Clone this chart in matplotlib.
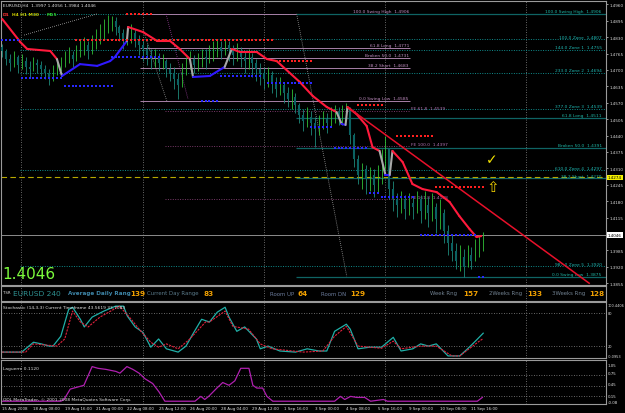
import matplotlib
matplotlib.use("Agg")
import matplotlib.pyplot as plt
from matplotlib.transforms import blended_transform_factory

W, H = 625, 414

# ---- EURUSD H4 bars (15 Aug 2008 .. 12 Sep 2008) ----
first_open = 1.4790
closes = [1.4775, 1.4743, 1.4727, 1.4751, 1.4719, 1.4735, 1.4712, 1.4704, 1.4727, 1.4719,
          1.4704, 1.4688, 1.4672, 1.4696, 1.4712, 1.4727, 1.4743, 1.4759, 1.4743, 1.4767,
          1.4783, 1.4799, 1.4775, 1.4807, 1.4830, 1.4854, 1.4870, 1.4886, 1.4894, 1.4870,
          1.4846, 1.4815, 1.4830, 1.4846, 1.4822, 1.4799, 1.4783, 1.4759, 1.4743, 1.4751,
          1.4727, 1.4735, 1.4704, 1.4688, 1.4664, 1.4640, 1.4696, 1.4727, 1.4743, 1.4719,
          1.4735, 1.4751, 1.4743, 1.4767, 1.4783, 1.4791, 1.4775, 1.4799, 1.4783, 1.4759,
          1.4775, 1.4751, 1.4735, 1.4751, 1.4727, 1.4704, 1.4688, 1.4664, 1.4680, 1.4648,
          1.4624, 1.4640, 1.4608, 1.4585, 1.4593, 1.4561, 1.4521, 1.4498, 1.4513, 1.4490,
          1.4466, 1.4482, 1.4505, 1.4490, 1.4521, 1.4537, 1.4513, 1.4529, 1.4545, 1.4442,
          1.4347, 1.4283, 1.4307, 1.4268, 1.4283, 1.4244, 1.4276, 1.4347, 1.4387, 1.4228,
          1.4189, 1.4165, 1.4189, 1.4149, 1.4173, 1.4157, 1.4189, 1.4141, 1.4165, 1.4133,
          1.4157, 1.4109, 1.4133, 1.4062, 1.4014, 1.3982, 1.3943, 1.3959, 1.3919, 1.3966,
          1.3943, 1.3990, 1.3997, 1.4046]
highs = [1.4803, 1.4783, 1.4763, 1.4775, 1.4759, 1.4763, 1.4751, 1.4735, 1.4751, 1.4743,
         1.4735, 1.4719, 1.4704, 1.4719, 1.4735, 1.4751, 1.4775, 1.4791, 1.4775, 1.4799,
         1.4822, 1.4830, 1.4815, 1.4838, 1.4862, 1.4882, 1.4902, 1.4918, 1.4914, 1.4910,
         1.4878, 1.4862, 1.4870, 1.4882, 1.4862, 1.4838, 1.4822, 1.4803, 1.4783, 1.4783,
         1.4767, 1.4763, 1.4743, 1.4727, 1.4712, 1.4688, 1.4727, 1.4751, 1.4775, 1.4759,
         1.4767, 1.4783, 1.4783, 1.4799, 1.4815, 1.4822, 1.4815, 1.4822, 1.4815, 1.4799,
         1.4807, 1.4791, 1.4775, 1.4783, 1.4767, 1.4743, 1.4727, 1.4712, 1.4712, 1.4696,
         1.4672, 1.4672, 1.4648, 1.4632, 1.4624, 1.4608, 1.4569, 1.4545, 1.4553, 1.4537,
         1.4513, 1.4521, 1.4537, 1.4529, 1.4553, 1.4561, 1.4553, 1.4561, 1.4569, 1.4553,
         1.4450, 1.4363, 1.4331, 1.4323, 1.4315, 1.4307, 1.4323, 1.4387, 1.4438, 1.4387,
         1.4260, 1.4212, 1.4220, 1.4204, 1.4212, 1.4196, 1.4220, 1.4204, 1.4220, 1.4196,
         1.4212, 1.4173, 1.4189, 1.4149, 1.4085, 1.4046, 1.4014, 1.4006, 1.3990, 1.4006,
         1.3998, 1.4030, 1.4046, 1.4056]
lows = [1.4751, 1.4719, 1.4696, 1.4712, 1.4688, 1.4704, 1.4684, 1.4672, 1.4696, 1.4688,
        1.4676, 1.4664, 1.4640, 1.4656, 1.4680, 1.4696, 1.4712, 1.4727, 1.4712, 1.4735,
        1.4751, 1.4759, 1.4743, 1.4763, 1.4783, 1.4803, 1.4822, 1.4846, 1.4854, 1.4838,
        1.4815, 1.4783, 1.4799, 1.4807, 1.4791, 1.4759, 1.4735, 1.4719, 1.4704, 1.4712,
        1.4696, 1.4704, 1.4672, 1.4656, 1.4624, 1.4585, 1.4632, 1.4680, 1.4704, 1.4688,
        1.4696, 1.4712, 1.4704, 1.4727, 1.4735, 1.4751, 1.4743, 1.4759, 1.4735, 1.4719,
        1.4735, 1.4712, 1.4688, 1.4704, 1.4672, 1.4656, 1.4640, 1.4624, 1.4632, 1.4608,
        1.4593, 1.4601, 1.4569, 1.4553, 1.4545, 1.4529, 1.4490, 1.4458, 1.4474, 1.4442,
        1.4394, 1.4442, 1.4466, 1.4450, 1.4474, 1.4490, 1.4482, 1.4482, 1.4498, 1.4406,
        1.4315, 1.4248, 1.4228, 1.4208, 1.4220, 1.4196, 1.4212, 1.4248, 1.4307, 1.4189,
        1.4141, 1.4117, 1.4133, 1.4109, 1.4125, 1.4109, 1.4133, 1.4093, 1.4109, 1.4077,
        1.4101, 1.4054, 1.4070, 1.4014, 1.3966, 1.3943, 1.3911, 1.3903, 1.3879, 1.3919,
        1.3911, 1.3943, 1.3959, 1.3984]

# ---- coloured moving average (d = falling, u = rising, t = turning) ----
ma_bar = [0, 4.6, 6.4, 12.3, 14.0, 15.3, 19.9, 24.3, 27.6, 28.8, 31.9, 32.2, 36.0, 39.6,
          42.9, 45.4, 48.0, 48.8, 53.1, 56.9, 58.7, 60.8, 65.1, 67.7, 70.2, 76.1, 79.4,
          83.0, 85.5, 86.8, 87.8, 88.3, 90.6, 93.2, 94.7, 96.5, 98.0, 99.1, 99.8, 102.4,
          104.9, 107.5, 111.1, 114.4, 116.9, 119.5, 121.3, 122.5]
ma_price = [1.4902, 1.4811, 1.4783, 1.4775, 1.4743, 1.4676, 1.4723, 1.4716, 1.4735, 1.4751,
            1.4815, 1.4870, 1.4850, 1.4815, 1.4815, 1.4783, 1.4743, 1.4672, 1.4676, 1.4712,
            1.4783, 1.4771, 1.4771, 1.4743, 1.4735, 1.4652, 1.4597, 1.4553, 1.4533, 1.4486,
            1.4482, 1.4553, 1.4525, 1.4478, 1.4394, 1.4379, 1.4284, 1.4284, 1.4379, 1.4335,
            1.4248, 1.4228, 1.4216, 1.4177, 1.4121, 1.4070, 1.4038, 1.4042]
ma_state = "ddddtuuuuutdddddtuutddddddddtutddddtutddddddddd"

trend_bar = [88.3, 150.1]
trend_price = [1.4553, 1.3855]

# ---- horizontal levels ----
zone_prices = [1.4922, 1.4822, 1.4779, 1.4688, 1.4545, 1.4303, 1.3923]
zone_names = ["", "100.0 Zone  1.4807", "144.0 Zone 1  1.4755", "233.0 Zone 2  1.4694",
              "377.0 Zone 3  1.4539", "610.0 Zone 4  1.4297", "987.0 Zone 5  1.3920"]
fib1_prices = [1.4922, 1.4787, 1.4747, 1.4708, 1.4577]
fib1_names = ["100.0 Swing High  1.4906", "61.8 Long  1.4771", "Broken 50.0  1.4731",
              "38.2 Short  1.4683", "0.0 Swing Low  1.4585"]
fe_prices = [1.4539, 1.4397, 1.4188]
fe_names = ["FE 61.8  1.4539", "FE 100.0  1.4397", "FE 161.8  1.4188"]
fib2_prices = [1.4922, 1.4511, 1.4391, 1.4270, 1.3880]
fib2_names = ["100.0 Swing High  1.4906", "61.8 Long  1.4511", "Broken 50.0  1.4391",
              "38.2 Short  1.4270", "0.0 Swing Low  1.3875"]
signal_price = 1.4274
last_price = 1.4046

red_rows = [(1.4922, 32, 38), (1.4819, 19, 69), (1.4735, 70, 79), (1.4561, 91, 97),
            (1.4438, 101, 110), (1.4236, 111, 123)]
blue_rows = [(1.4819, 0, 4), (1.4668, 5, 15), (1.4636, 16, 28), (1.4751, 28, 40),
             (1.4577, 51, 55), (1.4676, 56, 66), (1.4648, 68, 79), (1.4474, 79, 84),
             (1.4391, 85, 93), (1.4212, 94, 96), (1.4196, 97, 105), (1.4046, 107, 121),
             (1.3879, 122, 123)]
diag_lines = [((5.6, 24.3), (1.4838, 1.4922), "#b0b0b0"),
              ((36.0, 42.1), (1.4862, 1.4577), "#9a9a9a"),
              ((41.9, 47.5), (1.4922, 1.4585), "#a040a0"),
              ((75.3, 88.1), (1.4922, 1.3883), "#a0a0a0")]

# price scale labels (the 1.4050 one sits under the last-price box)
price_ticks = [1.4960, 1.4895, 1.4830, 1.4765, 1.4700, 1.4635, 1.4570, 1.4505, 1.4440,
               1.4375, 1.4310, 1.4245, 1.4180, 1.4115, 1.3985, 1.3920, 1.3855]

# ---- info bar ----
info_names = ["Average Daily Rang", "Current Day Range", "Room UP", "Room DN",
              "Week Rng", "2Weeks Rng", "3Weeks Rng"]
info_values = [139, 83, 64, 129, 157, 133, 128]

# ---- stochastic (14,3,3) ----
st_bar = [0, 5, 8, 10, 12, 13, 15, 17, 18, 20, 21, 23, 26, 29, 31, 32, 34, 36, 38, 40, 42,
          45, 47, 49, 51, 53, 55, 57, 58, 60, 62, 65, 66, 68, 71, 75, 78, 81, 83, 85, 88,
          89, 91, 94, 97, 100, 102, 105, 107, 109, 111, 114, 117, 119, 121, 123]
st_main = [9, 9, 27, 24, 20, 20, 38, 87, 91, 69, 55, 73, 84, 93, 93, 75, 55, 45, 18, 33, 15,
           9, 20, 45, 69, 64, 82, 91, 73, 47, 55, 33, 15, 20, 11, 9, 15, 11, 11, 47, 60,
           51, 15, 18, 18, 36, 11, 15, 24, 20, 24, 2, 2, 15, 29, 43.5619]
sg_bar = [0, 6, 8, 14, 16, 18, 20, 22, 25, 30, 33, 35, 38, 40, 42, 45, 48, 52, 53, 57, 59,
          63, 66, 69, 77, 82, 85, 88, 91, 97, 100, 102, 107, 111, 115, 117, 122, 123]
st_signal = [9, 9, 24, 20, 33, 84, 64, 55, 73, 93, 69, 51, 27, 18, 24, 15, 33, 64, 64, 84,
             56, 51, 24, 15, 9, 11, 38, 56, 20, 16, 29, 15, 20, 20, 2, 2, 29, 33.7083]

# ---- Laguerre ----
lag_bar = [0, 15, 15.8, 17.4, 20.9, 21.4, 23.0, 24.5, 26.5, 29.1, 30.1, 31.9, 33.4, 35.0,
           36.5, 38.5, 40.1, 41.6, 49.3, 50.8, 51.8, 52.8, 54.9, 56.4, 58.0, 59.5, 61.0,
           63.1, 64.1, 65.1, 66.6, 67.7, 69.2, 85.0, 86.5, 87.6, 89.1, 90.6, 92.7, 94.2,
           97.5, 98.5, 121.5, 122.8]
lag_val = [0, 0, 0.05, 0.35, 0.46, 0.59, 1.0, 0.95, 0.92, 0.86, 0.81, 1.0, 0.92, 0.81,
           0.65, 0.51, 0.27, 0, 0, 0.14, 0.05, 0.14, 0.38, 0.54, 0.46, 0.59, 0.95, 0.95,
           0.46, 0.38, 0.38, 0.14, 0, 0, 0.14, 0.05, 0.14, 0.11, 0.11, 0, 0.05, 0, 0, 0.112]

date_labels = ["15 Aug 2008", "18 Aug 08:00", "19 Aug 16:00", "21 Aug 00:00", "22 Aug 08:00",
               "25 Aug 12:00", "26 Aug 20:00", "28 Aug 04:00", "29 Aug 12:00", "1 Sep 16:00",
               "3 Sep 00:00", "4 Sep 08:00", "5 Sep 16:00", "9 Sep 00:00", "10 Sep 08:00",
               "11 Sep 16:00"]
grid_bars = [4.85, 36, 67, 98, 134]

XMAX = 154.4
RIGHT = 606
SMALL = 3.2
fig = plt.figure(figsize=(W / 100, H / 100), dpi=100, facecolor="black")


def ftext(x, y, s, **kw):
    kw.setdefault("va", "center")
    kw.setdefault("fontsize", SMALL)
    kw.setdefault("color", "#e0e0e0")
    fig.text(x / W, 1 - y / H, s, **kw)


def panel(x0, y0, x1, y1):
    a = fig.add_axes([x0 / W, 1 - y1 / H, (x1 - x0) / W, (y1 - y0) / H])
    a.set_facecolor("black")
    for s in a.spines.values():
        s.set_color("#9a9a9a")
        s.set_linewidth(0.8)
    a.set_xlim(-0.3, XMAX)
    a.set_xticks([])
    a.set_yticks([])
    for gx in grid_bars:
        a.axvline(gx, color="#8a8a8a", lw=0.6, ls=(0, (1, 2)), zorder=0)
    return a


# ================= main price window =================
ax = panel(1, 2, RIGHT, 286)
ax.set_ylim(1.3848, 1.4973)
ax.yaxis.tick_right()
ax.set_yticks(price_ticks)
ax.set_yticklabels([f"{v:.4f}" for v in price_ticks])
ax.tick_params(axis="y", colors="#d8d8d8", labelsize=3.0, length=1.5, width=0.5, pad=0.8)
yb = blended_transform_factory(ax.transAxes, ax.transData)

for p, name in zip(zone_prices, zone_names):
    ax.hlines(p, 4.5, XMAX, color="#0f8c8c", lw=0.7, ls=(0, (1, 1.5)), zorder=1)
    ax.annotate(name, (153.3, p), xytext=(0, 0.4), textcoords="offset points",
                ha="right", va="bottom", fontsize=SMALL, color="#1fb5b0")
for p, name in zip(fib1_prices, fib1_names):
    ax.hlines(p, 35.2, 104.2, color="#a880a8", lw=0.7, zorder=1)
    ax.annotate(name, (104.0, p), xytext=(0, 0.4), textcoords="offset points",
                ha="right", va="bottom", fontsize=SMALL, color="#c08cc0")
for p, name in zip(fe_prices, fe_names):
    ax.hlines(p, 41.6, 104.2, color="#7a3a6a", lw=0.7, ls=(0, (1, 1.5)), zorder=1)
    ax.annotate(name, (104.6, p), xytext=(0, 0.4), textcoords="offset points",
                ha="left", va="bottom", fontsize=SMALL, color="#b070b0")
for p, name in zip(fib2_prices, fib2_names):
    ax.hlines(p, 75.1, XMAX, color="#0f6464", lw=0.9, zorder=1)
    ax.annotate(name, (153.3, p), xytext=(0, 0.4), textcoords="offset points",
                ha="right", va="bottom", fontsize=SMALL, color="#1fb5a5")

ax.axhline(signal_price, color="#b8a800", lw=0.8, ls=(0, (5, 3)), zorder=2)
ax.axhline(last_price, color="#8c8c8c", lw=0.7, zorder=1)

for (bx, py, col) in diag_lines:
    ax.plot(bx, py, color=col, lw=0.6, ls=(0, (1, 1.5)), zorder=2)

# candles
opens = [first_open] + closes[:-1]
for i, (o, h, l, c) in enumerate(zip(opens, highs, lows, closes)):
    hi, lo = max(h, o, c), min(l, o, c)
    if c >= o:
        ax.vlines(i, lo, hi, color="#30c038", lw=0.6, zorder=3)
    else:
        ax.vlines(i, lo, hi, color="#1f8a7a", lw=0.6, zorder=3)
        ax.vlines(i, c, o, color="#0b6262", lw=1.5, zorder=3)

# coloured MA
state_col = {"d": "#ff1a3c", "u": "#3018ff", "t": "#a8a8a8"}
for k, st in enumerate(ma_state):
    ax.plot(ma_bar[k:k + 2], ma_price[k:k + 2], color=state_col[st], lw=1.5,
            solid_capstyle="round", zorder=5)
ax.plot(trend_bar, trend_price, color="#e8102a", lw=1.1, zorder=5)

for p, b0, b1 in red_rows:
    xs = list(range(b0, b1 + 1))
    ax.plot(xs, [p] * len(xs), ls="none", marker="s", ms=1.5, mew=0, color="#ff2020", zorder=6)
for p, b0, b1 in blue_rows:
    xs = list(range(b0, b1 + 1))
    ax.plot(xs, [p] * len(xs), ls="none", marker="s", ms=1.5, mew=0, color="#2828ff", zorder=6)

ax.text(1.003, signal_price, f"{signal_price:.4f}", transform=yb, fontsize=3.0, color="black",
        va="center", ha="left", clip_on=False,
        bbox=dict(facecolor="#f4f000", edgecolor="none", pad=0.5))
ax.text(1.003, last_price, f"{last_price:.4f}", transform=yb, fontsize=3.0, color="black",
        va="center", ha="left", clip_on=False,
        bbox=dict(facecolor="white", edgecolor="none", pad=0.5))

ftext(3, 6, "EURUSD,H4  1.3997 1.4056 1.3984 1.4046")
ftext(3, 15, "D1", color="#ff3030", weight="bold")
ftext(12, 15, "H4 H1 M30", color="#d0d000", weight="bold")
ftext(47, 15, "M15", color="#30d030", weight="bold")
ftext(2, 275, f"{last_price:.4f}", color="#7cfc3c", fontsize=11)
ftext(486, 160, "\u2713", color="#f0e000", fontsize=10, weight="bold")
ftext(486, 188, "\u21e7", color="#f0d000", fontsize=11)

# ================= info bar =================
ib = panel(1, 287, RIGHT, 302)
ib.set_ylim(0, 1)
ftext(3, 293, "TSR", fontsize=2.8)
ftext(13, 294, "EURUSD 240", color="#2e9090", fontsize=5.4)
name_x = [68, 147, 270, 321, 430, 489, 552]
val_x = [130, 203, 298, 350, 463, 527, 589]
name_col = ["#3e86a8", "#5a7a8a", "#6a7a9a", "#6a7a9a", "#708090", "#708090", "#708090"]
for nm, v, nx, vx, nc in zip(info_names, info_values, name_x, val_x, name_col):
    ftext(nx, 294, nm, color=nc, fontsize=4.1 if nx == 68 else 3.9,
          weight="bold" if nx == 68 else "normal")
    ftext(vx, 294, str(v), color="#f0a000", fontsize=5.2, weight="bold")

# ================= stochastic =================
sa = panel(1, 303, RIGHT, 359)
sa.set_ylim(-1.8, 100.6)
for lv in (80, 20):
    sa.axhline(lv, color="#8a8a8a", lw=0.6, ls=(0, (1, 2)))
sa.plot(st_bar, st_main, color="#20b0a8", lw=0.9)
sa.plot(sg_bar, st_signal, color="#e0203c", lw=0.8, ls=(0, (2, 1)))
ftext(3, 308, f"Stochastic (14,3,3) Current Timeframe {st_main[-1]:.4f} {st_signal[-1]:.4f}")
for y, s in [(306, "100.4406"), (314, "80"), (347, "20"), (357, "-0.0953")]:
    ftext(607.5, y, s, fontsize=2.5)

# ================= laguerre =================
la = panel(1, 361, RIGHT, 405)
la.set_ylim(-0.08, 1.19)
for lv in (0.75, 0.45, 0.15):
    la.axhline(lv, color="#8a8a8a", lw=0.6, ls=(0, (1, 2)))
la.plot(lag_bar, lag_val, color="#b020b0", lw=0.9)
ftext(3, 369, f"Laguerre {lag_val[-1]:.4f}")
ftext(3, 400, "ODL MetaTrader, \u00a9 2001-2008 MetaQuotes Software Corp.")
for y, s in [(366, "1.05"), (374, "0.75"), (385, "0.45"), (397, "0.15"), (403, "-0.08")]:
    ftext(608, y, s, fontsize=2.9)

xb = blended_transform_factory(la.transData, la.transAxes)
for k, lab in enumerate(date_labels):
    la.text(k * 8, -0.05, lab, transform=xb, fontsize=2.9, color="#e0e0e0",
            ha="left", va="top", clip_on=False)

fig.savefig("out.png", dpi=100, facecolor="black")
